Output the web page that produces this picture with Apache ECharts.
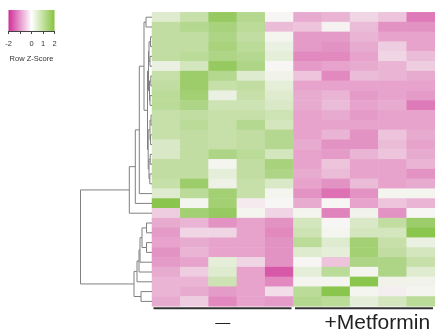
<!DOCTYPE html>
<html>
<head>
<meta charset="utf-8">
<script src="https://cdn.jsdelivr.net/npm/echarts@6/dist/echarts.min.js"></script>
<style>
  html, body { margin: 0; padding: 0; background: #fff; }
  #chart { width: 435px; height: 330px; }
</style>
</head>
<body>
<div id="chart"></div>
<script>
// samples: 5 control, 5 metformin
const samples = ['C1', 'C2', 'C3', 'C4', 'C5', 'M1', 'M2', 'M3', 'M4', 'M5']
const genes = [
  'g01', 'g02', 'g03', 'g04', 'g05', 'g06', 'g07', 'g08', 'g09', 'g10',
  'g11', 'g12', 'g13', 'g14', 'g15', 'g16', 'g17', 'g18', 'g19', 'g20',
  'g21', 'g22', 'g23', 'g24', 'g25', 'g26', 'g27', 'g28', 'g29', 'g30',
]

// row z-scores, one row per gene (top to bottom)
const zScores = [
  [0.4, 0.8, 1.6, 1.1, 0.0, -0.9, -0.8, -0.4, -0.6, -1.5],
  [0.9, 1.1, 1.3, 1.0, -0.7, -0.6, -0.05, -0.7, -1.2, -1.2],
  [0.9, 0.9, 1.2, 0.9, 0.05, -1.1, -1.1, -0.8, -1.0, -1.0],
  [0.9, 0.9, 1.3, 1.0, 0.2, -1.1, -1.2, -0.9, -0.5, -1.0],
  [0.9, 1.0, 1.2, 1.1, 0.3, -1.3, -1.3, -1.0, -0.4, -0.7],
  [0.2, 0.6, 1.6, 1.2, 0.0, -1.1, -1.0, -0.9, -0.8, -0.5],
  [0.8, 1.5, 1.1, 0.4, 0.1, -0.6, -1.3, -0.7, -0.8, -0.9],
  [0.9, 1.5, 0.8, 0.9, 0.3, -1.0, -1.0, -1.0, -1.0, -1.0],
  [1.0, 1.4, 0.2, 0.8, 0.4, -0.9, -0.8, -1.1, -1.0, -1.1],
  [1.0, 1.2, 0.7, 0.7, 0.5, -0.9, -0.7, -1.0, -0.9, -1.5],
  [0.8, 0.9, 0.8, 0.8, 0.7, -1.0, -0.9, -1.1, -1.0, -1.0],
  [0.8, 1.0, 0.8, 1.1, 0.6, -1.0, -1.0, -1.0, -1.0, -1.0],
  [0.8, 0.9, 0.8, 0.9, 1.1, -1.0, -0.8, -1.2, -0.6, -0.9],
  [0.5, 0.9, 0.8, 0.9, 1.1, -0.9, -1.2, -1.2, -0.7, -1.0],
  [0.5, 0.9, 1.2, 1.0, 0.6, -1.0, -1.1, -0.8, -0.6, -0.9],
  [0.9, 0.9, 0.05, 0.9, 1.3, -1.0, -0.6, -1.0, -1.0, -0.8],
  [0.9, 0.9, 0.3, 0.9, 1.2, -0.9, -0.7, -1.0, -1.0, -1.2],
  [0.8, 1.5, 0.15, 0.8, 0.5, -1.0, -1.2, -0.7, -1.0, -0.9],
  [0.4, 1.0, 1.4, 0.8, 0.05, -1.2, -1.6, -1.2, 0.05, 0.05],
  [1.8, 0.05, 1.4, -0.15, 0.0, -0.9, 0.0, -1.0, -0.6, -0.8],
  [-0.5, 1.4, 1.6, 0.05, -0.4, 0.05, -1.4, 0.1, -1.2, 0.0],
  [-0.9, -0.8, -1.2, -1.0, -1.2, 0.6, 0.0, 0.5, 0.9, 1.5],
  [-1.1, -0.4, -0.4, -1.0, -1.3, 0.7, 0.05, 0.6, 0.6, 1.8],
  [-1.0, -0.9, -1.0, -1.0, -1.2, 1.0, 0.4, 1.4, 0.8, 0.2],
  [-1.2, -0.8, -1.0, -1.0, -1.2, 0.4, 0.3, 1.4, 0.9, 0.6],
  [-1.1, -1.0, 0.3, -0.4, -1.2, 0.0, -0.6, 1.2, 1.2, 0.8],
  [-0.9, -0.5, 0.4, -1.0, -1.9, 0.3, 1.0, 0.05, 1.2, 0.4],
  [-0.8, -0.8, 0.7, -1.0, -1.3, 0.05, 0.05, 1.8, 0.1, 0.1],
  [-0.8, -0.9, -1.1, -1.0, -0.3, 1.0, 1.8, 0.05, -0.1, 0.05],
  [-0.9, -0.5, -1.3, -1.0, -1.1, 1.1, 1.0, 0.3, 0.6, 1.0],
]

// row dendrogram, hclust style: negative = leaf (row), positive = earlier merge (1-based)
const merges = [
  [-1, -2], [-3, -4], [-5, -6], [2, 3], [-7, -8], [-9, -10], [5, 6], [4, 7],
  [-11, -12], [-13, -14], [9, 10], [-15, -16], [-17, -18], [12, 13], [11, 14],
  [8, 15], [1, 16], [17, -19], [18, -20], [19, -21],
  [-22, -23], [-24, -25], [21, 22], [23, -26], [24, -27], [25, -28], [-29, -30],
  [26, 27], [20, 28],
]
const mergeHeights = [
  6, 1.5, 2, 3, 1.2, 2, 2.5, 3.5,
  1, 1.5, 2, 1.8, 2.2, 3, 3.8,
  4.5, 8, 12.7, 16.7, 22.7,
  5.5, 5.5, 10, 12, 13, 15, 11,
  18, 71.5,
]

const groupNames = ['—', '+Metformin']
const groupFrom = [0, 5]
const groupTo = [4, 9]
const groupLabelShift = [0, 13]
const groupFontSize = [15, 21]

const keyTicks = [-2, 0, 1, 2]

// cells look a bit softer than the key
const cellLow = '#d650a4'
const cellMid = '#f7f6f4'
const cellHigh = '#7ebf3c'
const keyLow = '#cf2f98'
const keyHigh = '#86c340'
const font = '"Liberation Sans", Arial, sans-serif'

const heatData = []
zScores.forEach((row, r) => row.forEach((v, c) => heatData.push([c, r, v])))

const nodePos = []
const nodeH = []
const childInfo = (ref) => (ref < 0 ? { pos: -ref - 1, h: 0 } : { pos: nodePos[ref - 1], h: nodeH[ref - 1] })
const dendroData = merges.map(([a, b], i) => {
  const l = childInfo(a)
  const r = childInfo(b)
  nodePos[i] = (l.pos + r.pos) / 2
  nodeH[i] = mergeHeights[i]
  return [mergeHeights[i], l.pos, r.pos, l.h, r.h]
})

const groupData = groupFrom.map((f, i) => [f, groupTo[i]])

const chart = echarts.init(document.getElementById('chart'))

chart.setOption({
  animation: false,
  textStyle: { fontFamily: font },
  grid: [
    { left: 152, top: 12.3, width: 286, height: 294 },
    { left: 80, top: 12.3, width: 72, height: 294 },
    {
      left: 8.5, top: 10, width: 46, height: 21,
      show: true, borderWidth: 0,
      backgroundColor: new echarts.graphic.LinearGradient(0, 0, 1, 0, [
        { offset: 0, color: keyLow },
        { offset: 0.5, color: '#ffffff' },
        { offset: 1, color: keyHigh },
      ]),
    },
  ],
  xAxis: [
    { type: 'category', gridIndex: 0, data: samples, show: false },
    { type: 'value', gridIndex: 1, min: 0, max: 72, inverse: true, show: false },
    {
      type: 'value', gridIndex: 2, min: -2, max: 2, interval: 1,
      axisLine: { show: true, lineStyle: { color: '#444', width: 1 } },
      axisTick: { show: true, length: 3, lineStyle: { color: '#444' } },
      splitLine: { show: false },
      axisLabel: {
        fontSize: 7.5, color: '#333', margin: 9, fontFamily: font,
        formatter: (v) => (keyTicks.includes(v) ? String(v) : ''),
      },
      name: 'Row Z-Score', nameLocation: 'middle', nameGap: 24,
      nameTextStyle: { fontSize: 7.5, color: '#333', fontFamily: font },
    },
  ],
  yAxis: [
    { type: 'category', gridIndex: 0, data: genes, inverse: true, show: false },
    { type: 'value', gridIndex: 1, min: -0.5, max: 29.5, inverse: true, show: false },
    { type: 'value', gridIndex: 2, show: false },
  ],
  visualMap: {
    show: false,
    min: -2,
    max: 2,
    seriesIndex: 0,
    dimension: 2,
    inRange: { color: [cellLow, cellMid, cellHigh] },
  },
  series: [
    {
      type: 'heatmap',
      xAxisIndex: 0,
      yAxisIndex: 0,
      data: heatData,
      itemStyle: { borderWidth: 0 },
      emphasis: { disabled: true },
      progressive: 0,
    },
    {
      type: 'custom',
      xAxisIndex: 1,
      yAxisIndex: 1,
      data: dendroData,
      renderItem: (params, api) => {
        const h = api.value(0)
        const p1 = api.coord([api.value(3), api.value(1)])
        const p2 = api.coord([h, api.value(1)])
        const p3 = api.coord([h, api.value(2)])
        const p4 = api.coord([api.value(4), api.value(2)])
        return {
          type: 'polyline',
          shape: { points: [p1, p2, p3, p4] },
          style: { stroke: '#808080', lineWidth: 1, fill: null },
        }
      },
    },
    {
      type: 'custom',
      xAxisIndex: 0,
      yAxisIndex: 0,
      data: groupData,
      renderItem: (params, api) => {
        const i = params.dataIndex
        const size = api.size([1, 1])
        const a = api.coord([api.value(0), genes.length - 1])
        const b = api.coord([api.value(1), genes.length - 1])
        const y = a[1] + size[1] / 2 + 2
        const x1 = a[0] - size[0] / 2 + 1.5
        const x2 = b[0] + size[0] / 2 - 2
        return {
          type: 'group',
          children: [
            {
              type: 'line',
              shape: { x1, y1: y, x2, y2: y },
              style: { stroke: '#333', lineWidth: 2 },
            },
            {
              type: 'text',
              x: (a[0] + b[0]) / 2 + groupLabelShift[i],
              y: y + 15,
              style: {
                text: groupNames[i],
                font: groupFontSize[i] + 'px ' + font,
                fill: '#222',
                textAlign: 'center',
                textVerticalAlign: 'middle',
              },
            },
          ],
        }
      },
    },
  ],
})
</script>
</body>
</html>
